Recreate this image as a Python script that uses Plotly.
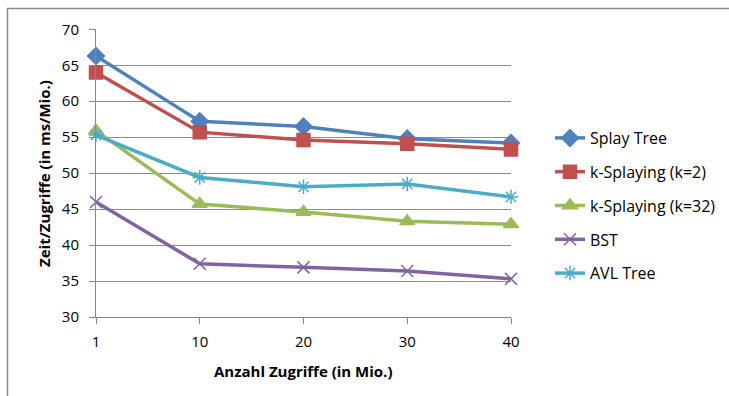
import plotly.graph_objects as go

categories = ["1", "10", "20", "30", "40"]
splay_tree = [66.3, 57.2, 56.5, 54.8, 54.2]
k_splay_2 = [64.0, 55.7, 54.6, 54.1, 53.3]
k_splay_32 = [55.9, 45.7, 44.6, 43.3, 42.9]
bst = [46.0, 37.4, 36.9, 36.4, 35.3]
avl_tree = [55.3, 49.4, 48.1, 48.5, 46.7]

series_names = ["Splay Tree", "k-Splaying (k=2)", "k-Splaying (k=32)", "BST", "AVL Tree"]
series_values = [splay_tree, k_splay_2, k_splay_32, bst, avl_tree]
colors = ["#4F81BD", "#C0504D", "#9BBB59", "#8064A2", "#4BACC6"]
symbols = ["diamond", "square", "triangle-up", "x-thin-open", "asterisk-open"]
sizes = [13, 13, 13, 12, 12]

W, H = 729, 396
FONT = "Open Sans"

fig = go.Figure()
for i, (name, vals) in enumerate(zip(series_names, series_values)):
    fig.add_trace(go.Scatter(
        x=categories, y=vals, name=name, mode="lines+markers",
        line=dict(color=colors[i], width=3.5),
        marker=dict(symbol=symbols[i], size=sizes[i], color=colors[i],
                    line=dict(color=colors[i], width=1.5)),
        cliponaxis=False, legendgroup=name,
    ))

fig.update_layout(
    template="none",
    width=W, height=H,
    margin=dict(l=0, r=0, t=0, b=0, pad=0),
    paper_bgcolor="white", plot_bgcolor="white",
    font=dict(family=FONT, size=15, color="#000000"),
    showlegend=True,
    legend=dict(x=550 / W, y=(H - 121) / H, xanchor="left", yanchor="top",
                font=dict(family=FONT, size=16), tracegroupgap=10,
                bgcolor="rgba(0,0,0,0)", borderwidth=0),
    xaxis=dict(type="category", range=[0, 4], domain=[96 / W, 511 / W],
               automargin=False,
               showgrid=False, showline=True, linecolor="#888888", linewidth=1,
               ticks="outside", ticklen=6, tickcolor="#888888", tickwidth=1,
               ticklabelstandoff=5,
               tickfont=dict(family=FONT, size=15), zeroline=False),
    yaxis=dict(range=[30, 70], dtick=5, domain=[(H - 317) / H, (H - 29.3) / H],
               automargin=False,
               showgrid=True, gridcolor="#8C8C8C", gridwidth=1,
               showline=True, linecolor="#888888", linewidth=1,
               ticks="outside", ticklen=6, tickcolor="#888888", tickwidth=1,
               ticklabelstandoff=7,
               tickfont=dict(family=FONT, size=15), zeroline=False),
    shapes=[dict(type="rect", xref="paper", yref="paper",
                 x0=7.5 / W, x1=1.05, y0=-0.05, y1=(H - 8.5) / H,
                 line=dict(color="#8A8A8A", width=1.5), layer="above")],
    annotations=[
        dict(text="<b>Anzahl Zugriffe (in Mio.)</b>", xref="paper", yref="paper",
             x=303 / W, y=(H - 371) / H, xanchor="center", yanchor="middle",
             showarrow=False, font=dict(family=FONT, size=15)),
        dict(text="<b>Zeit/Zugriffe (in ms/Mio.)</b>", xref="paper", yref="paper",
             x=44 / W, y=(H - 174) / H, xanchor="center", yanchor="middle",
             showarrow=False, textangle=-90, font=dict(family=FONT, size=15)),
    ],
)

fig.write_html(
    "out.html",
    config={"displayModeBar": False},
    post_script="document.body.style.margin='0';document.body.style.overflow='hidden';",
)
